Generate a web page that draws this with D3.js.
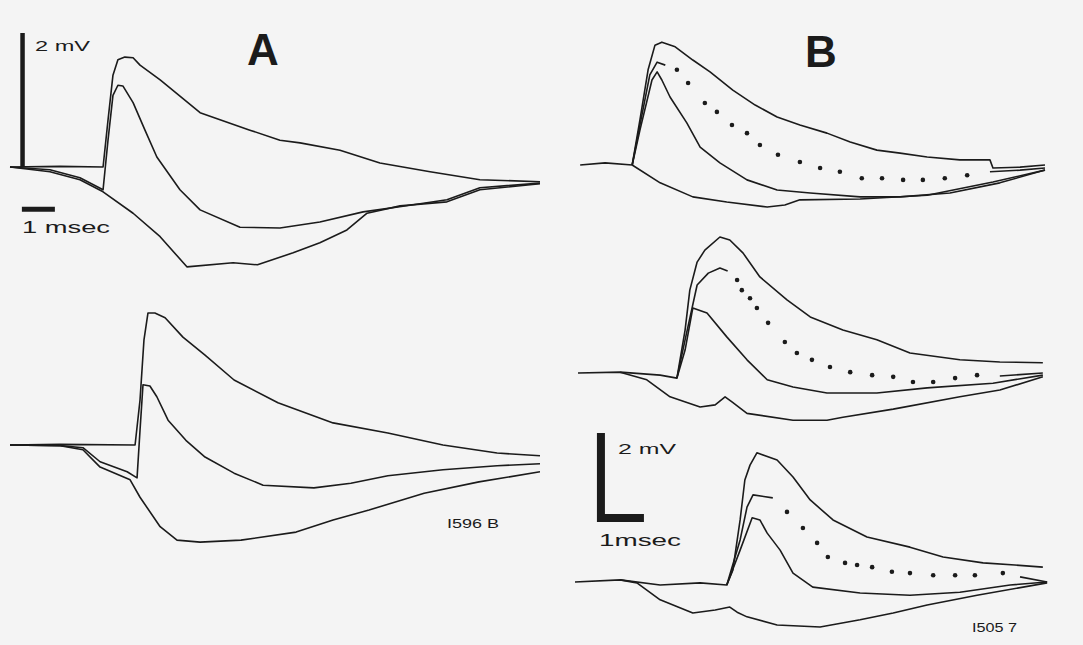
<!DOCTYPE html>
<html>
<head>
<meta charset="utf-8">
<script src="https://cdn.jsdelivr.net/npm/d3@7"></script>
<style>
  body { margin:0; background:#f4f4f4; }
  svg text { font-family:"Liberation Sans", Arial, sans-serif; fill:#1b1b1b; }
</style>
</head>
<body>
<svg id="fig"></svg>
<script>

/*
	Traces: [time in msec, potential in mV]
 */

// A, upper record
var aTopLarge  = [[0,0],[1.52,0.01],[2.82,0],[2.97,0.70],[3.12,1.37],[3.27,1.60],[3.48,1.64],[3.73,1.63],[3.94,1.52],[4.55,1.30],[5.76,0.81],[7.27,0.55],[8.18,0.40],[8.79,0.36],[10.0,0.25],[11.21,0.06],[12.73,-0.07],[14.24,-0.19],[16.06,-0.22]];
var aTopMiddle = [[0,0],[1.21,-0.04],[2.12,-0.16],[2.82,-0.34],[2.97,0.40],[3.12,1.07],[3.27,1.22],[3.42,1.21],[3.73,0.96],[4.09,0.55],[4.45,0.15],[5.15,-0.34],[5.76,-0.64],[6.97,-0.90],[8.18,-0.91],[9.39,-0.82],[10.7,-0.67],[12.12,-0.57],[13.24,-0.49],[14.24,-0.31],[16.06,-0.24]];
var aTopNeg    = [[0,0],[1.21,-0.07],[2.12,-0.19],[2.82,-0.37],[3.73,-0.69],[4.55,-1.04],[5.36,-1.49],[6.76,-1.43],[7.5,-1.46],[8.58,-1.28],[9.39,-1.13],[10.21,-0.94],[10.82,-0.69],[11.82,-0.58],[13.24,-0.52],[14.24,-0.34],[16.06,-0.25]];

// A, lower record
var aBotLarge  = [[0,0],[1.52,0.01],[3.79,0],[3.94,0.67],[4.06,1.57],[4.18,1.97],[4.39,1.97],[4.70,1.90],[5.24,1.61],[5.91,1.34],[6.79,0.97],[8.12,0.63],[9.79,0.33],[11.45,0.18],[13.12,0],[14.76,-0.12],[16.06,-0.16]];
var aBotMiddle = [[0,0],[1.52,-0.01],[2.21,-0.04],[2.73,-0.25],[3.55,-0.40],[3.85,-0.49],[3.94,0.22],[4.03,0.90],[4.24,0.88],[4.45,0.72],[4.79,0.37],[5.33,0.07],[5.91,-0.18],[6.79,-0.42],[7.67,-0.60],[9.21,-0.64],[10.33,-0.57],[11.45,-0.46],[13.12,-0.37],[14.76,-0.31],[16.06,-0.28]];
var aBotNeg    = [[0,0],[1.52,-0.01],[2.21,-0.07],[2.73,-0.33],[3.64,-0.52],[3.94,-0.78],[4.55,-1.22],[5.06,-1.42],[5.76,-1.45],[7.0,-1.42],[8.67,-1.30],[9.79,-1.12],[10.88,-0.97],[12.55,-0.72],[14.21,-0.55],[16.06,-0.40]];

// B, upper record
var bTopLarge   = [[0.12,0],[0.70,0.05],[1.33,0],[1.51,1.06],[1.70,2.24],[1.86,2.82],[2.02,2.89],[2.33,2.78],[2.74,2.47],[3.14,2.19],[3.67,1.76],[4.19,1.41],[4.70,1.13],[5.23,0.94],[5.86,0.75],[6.40,0.54],[7.02,0.35],[7.56,0.28],[8.19,0.19],[8.95,0.12],[9.65,0.12],[9.72,-0.07],[10.35,-0.05],[10.93,0]];
var bTopDotRise = [[1.33,0],[1.51,0.94],[1.74,2.12],[1.91,2.42],[2.1,2.35]];
var bTopDots    = [[2.37,2.24],[2.63,1.93],[3.02,1.46],[3.30,1.25],[3.65,0.94],[4.0,0.75],[4.30,0.47],[4.72,0.24],[5.23,0.07],[5.70,-0.07],[6.16,-0.16],[6.67,-0.31],[7.14,-0.31],[7.63,-0.35],[8.09,-0.35],[8.60,-0.31],[9.12,-0.24]];
var bTopDotTail = [[9.65,-0.16],[10.35,-0.12],[10.93,-0.07]];
var bTopSmall   = [[1.33,0],[1.51,0.82],[1.79,2.0],[1.91,2.19],[2.02,2.0],[2.21,1.6],[2.60,0.99],[2.91,0.42],[3.37,0.05],[4.0,-0.35],[4.70,-0.59],[5.47,-0.66],[6.63,-0.75],[7.56,-0.75],[8.72,-0.66],[9.88,-0.42],[10.93,-0.12]];
var bTopNeg     = [[1.33,0],[1.98,-0.42],[2.74,-0.75],[3.53,-0.87],[4.47,-0.99],[4.88,-0.94],[5.23,-0.82],[6.63,-0.80],[8.19,-0.71],[9.72,-0.40],[10.93,-0.12]];

// B, middle record
var bMidLarge   = [[0.07,0],[1.05,0.02],[1.98,-0.05],[2.37,-0.12],[2.56,1.01],[2.67,1.95],[2.84,2.61],[3.02,2.89],[3.37,3.20],[3.60,3.13],[3.91,2.82],[4.30,2.26],[4.93,1.72],[5.47,1.32],[6.23,1.01],[7.02,0.78],[7.79,0.47],[8.95,0.31],[9.88,0.26],[10.88,0.24]];
var bMidDotRise = [[2.37,-0.12],[2.56,0.78],[2.84,2.07],[3.1,2.35],[3.37,2.47],[3.55,2.4]];
var bMidDots    = [[3.77,2.19],[3.88,1.95],[4.07,1.76],[4.23,1.53],[4.49,1.18],[4.88,0.73],[5.16,0.47],[5.51,0.31],[5.93,0.14],[6.40,0.02],[6.91,-0.05],[7.40,-0.09],[7.86,-0.21],[8.33,-0.21],[8.84,-0.12],[9.35,-0.05]];
var bMidDotTail = [[9.88,-0.07],[10.88,0]];
var bMidSmall   = [[2.37,-0.12],[2.56,0.54],[2.74,1.53],[3.07,1.41],[3.53,0.85],[4.0,0.31],[4.47,-0.16],[5.07,-0.33],[5.86,-0.47],[7.02,-0.47],[8.19,-0.35],[9.72,-0.24],[10.88,-0.05]];
var bMidNeg     = [[1.05,0.02],[1.67,-0.16],[2.21,-0.56],[2.91,-0.80],[3.26,-0.75],[3.49,-0.56],[3.65,-0.68],[4.0,-0.95],[5.07,-1.11],[5.86,-1.11],[6.23,-1.04],[7.40,-0.85],[8.95,-0.56],[9.88,-0.40],[10.88,-0.09]];

// B, lower record
var bBotLarge   = [[0,0],[1.05,0.05],[1.98,-0.07],[2.91,-0.02],[3.53,-0.07],[3.67,0.28],[3.84,1.46],[3.95,2.40],[4.07,2.75],[4.23,3.04],[4.70,2.87],[5.07,2.47],[5.47,1.93],[6.0,1.46],[6.79,1.06],[7.79,0.82],[8.56,0.59],[9.49,0.45],[10.23,0.40],[10.88,0.35]];
var bBotDotRise = [[3.53,-0.07],[3.84,0.99],[4.0,1.76],[4.14,2.05],[4.60,1.98]];
var bBotDots    = [[4.93,1.65],[5.30,1.27],[5.63,0.92],[5.88,0.59],[6.28,0.45],[6.56,0.40],[6.91,0.35],[7.37,0.24],[7.79,0.21],[8.33,0.16],[8.84,0.16],[9.30,0.16],[9.95,0.21]];
var bBotDotTail = [[10.35,0.12],[10.98,0]];
var bBotSmall   = [[3.53,-0.07],[3.84,0.75],[4.12,1.51],[4.30,1.46],[4.47,1.15],[4.77,0.75],[5.07,0.21],[5.53,-0.12],[6.63,-0.26],[7.79,-0.31],[8.95,-0.24],[10.12,-0.07],[10.98,0]];
var bBotNeg     = [[1.05,0.05],[1.44,-0.02],[1.98,-0.42],[2.74,-0.73],[3.26,-0.66],[3.60,-0.59],[3.77,-0.71],[4.0,-0.82],[4.70,-1.01],[5.70,-1.06],[6.63,-0.89],[7.40,-0.73],[8.19,-0.54],[9.35,-0.31],[10.98,-0.02]];

// calibration bars: [msec, mV]
var aCalib = [1, 2];
var bCalib = [1, 2];

// labels
var panelLabels = ["A", "B"];
var recordIds   = ["I596 B", "I505 7"];

/*
	Canvas
 */

var container = { width:1083, height:645 };
var ink = "#1b1b1b";

var svg = d3.select("#fig").attr("width", container.width).attr("height", container.height);
svg.append("rect").attr("width", container.width).attr("height", container.height).attr("fill", "#f4f4f4");

/*
	Scales: one time scale per column, one voltage scale per record
 */

var xA = d3.scaleLinear().domain([0, 16]).range([10, 538]);
var xB = d3.scaleLinear().domain([0, 11]).range([575, 1048]);

function voltScale(base, pxPerMv){
	return d3.scaleLinear().domain([0, 2]).range([base, base - 2 * pxPerMv]);
}

var yATop = voltScale(167, 67),
	yABot = voltScale(445, 67),
	yBTop = voltScale(165, 42.5),
	yBMid = voltScale(373, 42.5),
	yBBot = voltScale(582, 42.5);

var traces = [
	{ x:xA, y:yATop, lines:[aTopLarge, aTopMiddle, aTopNeg], dots:[] },
	{ x:xA, y:yABot, lines:[aBotLarge, aBotMiddle, aBotNeg], dots:[] },
	{ x:xB, y:yBTop, lines:[bTopLarge, bTopDotRise, bTopDotTail, bTopSmall, bTopNeg], dots:bTopDots },
	{ x:xB, y:yBMid, lines:[bMidLarge, bMidDotRise, bMidDotTail, bMidSmall, bMidNeg], dots:bMidDots },
	{ x:xB, y:yBBot, lines:[bBotLarge, bBotDotRise, bBotDotTail, bBotSmall, bBotNeg], dots:bBotDots }
];

traces.forEach(function(p){
	var line = d3.line()
		.x(function(d){ return p.x(d[0]); })
		.y(function(d){ return p.y(d[1]); });

	var g = svg.append("g");

	g.selectAll("path").data(p.lines).enter().append("path")
		.attr("d", line)
		.attr("fill", "none")
		.attr("stroke", ink)
		.attr("stroke-width", 1.6)
		.attr("stroke-linejoin", "round");

	g.selectAll("circle").data(p.dots).enter().append("circle")
		.attr("cx", function(d){ return p.x(d[0]); })
		.attr("cy", function(d){ return p.y(d[1]); })
		.attr("r", 2.3)
		.attr("fill", ink);
});

/*
	Calibration bars
 */

// A: vertical bar rises out of the baseline, time bar sits below it
var aBarX = xA(0.38);
svg.append("line")
	.attr("x1", aBarX).attr("x2", aBarX)
	.attr("y1", yATop(0)).attr("y2", yATop(aCalib[1]))
	.attr("stroke", ink).attr("stroke-width", 4.5);
svg.append("line")
	.attr("x1", xA(0.36)).attr("x2", xA(0.36 + aCalib[0]))
	.attr("y1", yATop(-0.63)).attr("y2", yATop(-0.63))
	.attr("stroke", ink).attr("stroke-width", 5);

// B: L shaped bar
var bL = [[0.51, 3.41], [0.51, 3.41 - bCalib[1]], [0.51 + bCalib[0], 3.41 - bCalib[1]]];
svg.append("path")
	.attr("d", d3.line().x(function(d){ return xB(d[0]); }).y(function(d){ return yBBot(d[1]); })(bL))
	.attr("fill", "none")
	.attr("stroke", ink)
	.attr("stroke-width", 8)
	.attr("stroke-linejoin", "miter")
	.attr("transform", "translate(4,-4)");

/*
	Text
 */

function label(txt, x, y, size, len, weight){
	var t = svg.append("text")
		.attr("x", x).attr("y", y)
		.attr("font-size", size)
		.attr("font-weight", weight || "normal")
		.text(txt);
	if(len){ t.attr("textLength", len).attr("lengthAdjust", "spacingAndGlyphs"); }
	return t;
}

label(panelLabels[0], 263, 65, 44, null, "bold").attr("text-anchor", "middle");
label(panelLabels[1], 821, 67, 44, null, "bold").attr("text-anchor", "middle");

label(aCalib[1] + " mV", 35, 51, 15, 55);
label(aCalib[0] + " msec", 22, 233, 17, 88);
label(bCalib[1] + " mV", 618, 454, 15, 58);
label(bCalib[0] + "msec", 599, 546, 17, 82);

label(recordIds[0], 447, 528, 12, 52);
label(recordIds[1], 972, 632, 12, 45);

</script>
</body>
</html>
